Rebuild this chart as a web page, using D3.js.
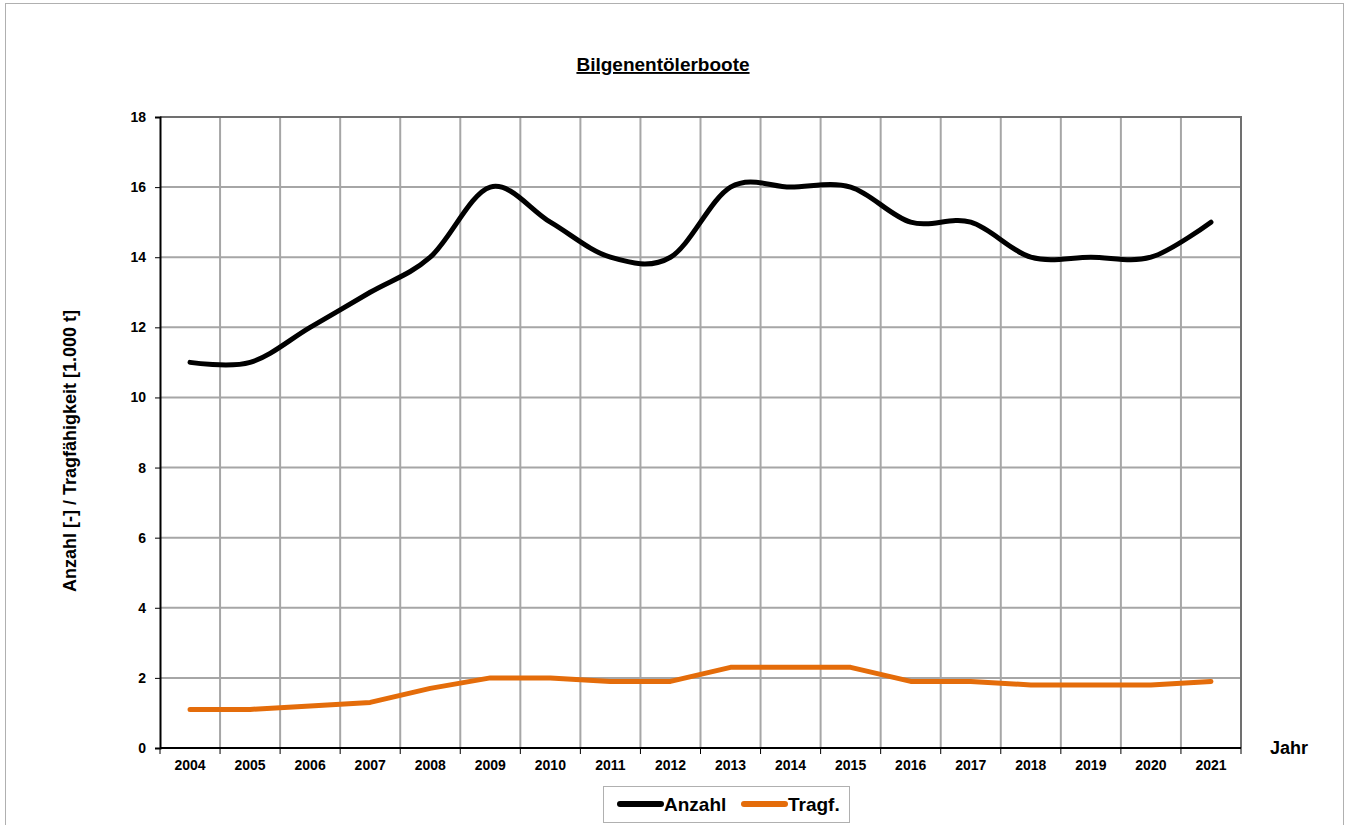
<!DOCTYPE html>
<html>
<head>
<meta charset="utf-8">
<script src="https://d3js.org/d3.v7.min.js"></script>
<style>
  body { margin: 0; background: #fff; }
  text { font-family: "Liberation Sans", Arial, sans-serif; font-weight: bold; fill: #000; }
</style>
</head>
<body>
<div id="chart"></div>
<script>
// data
var years = ["2004","2005","2006","2007","2008","2009","2010","2011","2012",
             "2013","2014","2015","2016","2017","2018","2019","2020","2021"];
var anzahl = [11, 11, 12, 13, 14, 16, 15, 14, 14, 16, 16, 16, 15, 15, 14, 14, 14, 15];
var tragf = [1.1, 1.1, 1.2, 1.3, 1.7, 2.0, 2.0, 1.9, 1.9, 2.3, 2.3, 2.3, 1.9, 1.9, 1.8, 1.8, 1.8, 1.9];
var yTicks = [0, 2, 4, 6, 8, 10, 12, 14, 16, 18];

// plot area (note: "top" is taken by window.top, so prefixed names)
var width = 1348,
	height = 825,
	plotLeft = 160, plotRight = 1241,
	plotTop = 117, plotBottom = 748;

var svg = d3.select("#chart").append("svg")
	.attr("width", width)
	.attr("height", height);

// outer frame
svg.append("rect")
	.attr("x", 5.5).attr("y", 3.5)
	.attr("width", 1338).attr("height", 830)
	.attr("fill", "none")
	.attr("stroke", "#b0b0b0")
	.attr("stroke-width", 1);

var x = d3.scaleBand().domain(years).range([plotLeft, plotRight]);
var y = d3.scaleLinear().domain([0, 18]).range([plotBottom, plotTop]);

// grid
var grid = svg.append("g");
grid.selectAll(".hg")
	.data(yTicks.filter(function(d){ return d > 0 && d < 18; }))
	.enter().append("line")
		.attr("x1", plotLeft).attr("x2", plotRight)
		.attr("y1", function(d){ return y(d); })
		.attr("y2", function(d){ return y(d); })
		.attr("stroke", "#a6a6a6").attr("stroke-width", 2);
grid.selectAll(".vg")
	.data(years.slice(1))
	.enter().append("line")
		.attr("x1", function(d){ return x(d); })
		.attr("x2", function(d){ return x(d); })
		.attr("y1", plotTop).attr("y2", plotBottom)
		.attr("stroke", "#a6a6a6").attr("stroke-width", 2);

// plot frame top / right
svg.append("path")
	.attr("d", "M" + plotLeft + "," + plotTop + "H" + plotRight + "V" + plotBottom)
	.attr("fill", "none")
	.attr("stroke", "#707070")
	.attr("stroke-width", 2);

// y axis
var yAxis = svg.append("g")
	.attr("transform", "translate(" + plotLeft + ",0)")
	.call(d3.axisLeft(y).tickValues(yTicks).tickSize(5).tickPadding(9));
yAxis.select(".domain").attr("stroke", "#000").attr("stroke-width", 2);
yAxis.selectAll(".tick line").attr("stroke", "#000");
yAxis.selectAll("text").style("font-size", "14px");

// x axis: ticks on category boundaries
var xAxis = svg.append("g").attr("transform", "translate(0," + plotBottom + ")");
xAxis.append("line")
	.attr("x1", plotLeft).attr("x2", plotRight)
	.attr("stroke", "#000").attr("stroke-width", 2);
xAxis.selectAll(".xt")
	.data(years.concat(["end"]))
	.enter().append("line")
		.attr("x1", function(d, i){ return plotLeft + i * x.bandwidth(); })
		.attr("x2", function(d, i){ return plotLeft + i * x.bandwidth(); })
		.attr("y1", 0).attr("y2", 6)
		.attr("stroke", "#000");
xAxis.selectAll(".xl")
	.data(years)
	.enter().append("text")
		.attr("x", function(d){ return x(d) + x.bandwidth() / 2; })
		.attr("y", 22)
		.attr("text-anchor", "middle")
		.style("font-size", "14px")
		.text(function(d){ return d; });

// lines
var cx = function(d, i){ return x(years[i]) + x.bandwidth() / 2; };
var smooth = d3.line().x(cx).y(function(d){ return y(d); }).curve(d3.curveCardinal.tension(0));
var straight = d3.line().x(cx).y(function(d){ return y(d); });

svg.append("path")
	.attr("d", straight(tragf))
	.attr("fill", "none")
	.attr("stroke", "#e46c0a")
	.attr("stroke-width", 5)
	.attr("stroke-linecap", "round")
	.attr("stroke-linejoin", "round");

svg.append("path")
	.attr("d", smooth(anzahl))
	.attr("fill", "none")
	.attr("stroke", "#000")
	.attr("stroke-width", 5)
	.attr("stroke-linecap", "round")
	.attr("stroke-linejoin", "round");

// title
svg.append("text")
	.attr("x", 663).attr("y", 71)
	.attr("text-anchor", "middle")
	.style("font-size", "19px")
	.style("text-decoration", "underline")
	.text("Bilgenentölerboote");

// y label
svg.append("text")
	.attr("transform", "translate(76,451) rotate(-90)")
	.attr("text-anchor", "middle")
	.style("font-size", "18px")
	.text("Anzahl [-] / Tragfähigkeit [1.000 t]");

// x label
svg.append("text")
	.attr("x", 1270).attr("y", 754)
	.style("font-size", "18px")
	.text("Jahr");

// legend
var legend = svg.append("g");
legend.append("rect")
	.attr("x", 603.5).attr("y", 786.5)
	.attr("width", 246).attr("height", 36)
	.attr("fill", "#fff")
	.attr("stroke", "#b0b0b0");
var items = [{name: "Anzahl", color: "#000", x: 617}, {name: "Tragf.", color: "#e46c0a", x: 741}];
items.forEach(function(it){
	legend.append("line")
		.attr("x1", it.x + 3).attr("x2", it.x + 44)
		.attr("y1", 804).attr("y2", 804)
		.attr("stroke", it.color)
		.attr("stroke-width", 6)
		.attr("stroke-linecap", "round");
	legend.append("text")
		.attr("x", it.x + 47).attr("y", 811)
		.style("font-size", "19px")
		.text(it.name);
});
</script>
</body>
</html>
